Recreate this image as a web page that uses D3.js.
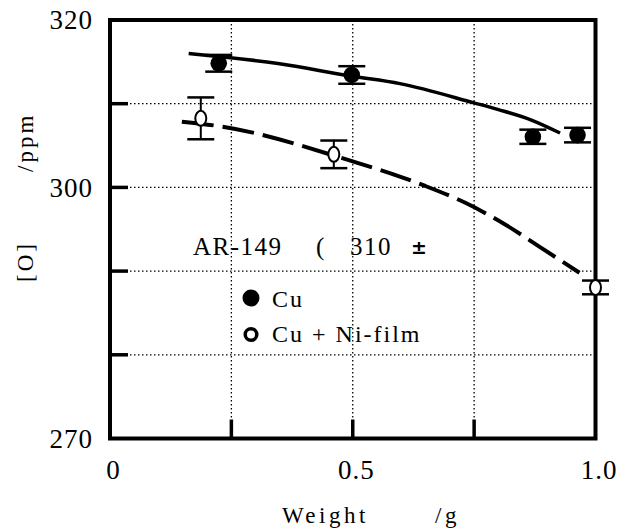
<!DOCTYPE html>
<html><head><meta charset="utf-8">
<script src="https://cdn.jsdelivr.net/npm/d3@7"></script>
<style>body{margin:0;background:#fff}</style>
</head><body><svg id="c" width="620" height="530"></svg>
<script>
// Data
const cuX = [0.224, 0.498, 0.871, 0.963];
const cuY = [314.83, 313.43, 306.05, 306.25];
const cuErr = [1.0, 1.05, 0.85, 0.87];
const niX = [0.187, 0.461, 1.0];
const niY = [308.25, 303.95, 288.05];
const niErr = [2.5, 1.65, 0.82];
const fitCuX = [0.162, 0.346, 0.497, 0.597, 0.75, 0.8, 0.868, 0.927];
const fitCuY = [316.0, 314.8, 313.3, 312.4, 310.1, 309.3, 308.05, 306.5];
const fitNiX = [0.148, 0.232, 0.5, 0.597, 0.648, 0.734, 0.813, 0.885, 0.967];
const fitNiY = [307.85, 307.25, 303.1, 301.3, 300.2, 298.1, 295.6, 292.9, 289.8];
const xTicks = [0, 0.25, 0.5, 0.75, 1.0];
const xTickLabels = ["0", "", "0.5", "", "1.0"];
const yTicks = [270, 280, 290, 300, 310, 320];
const yTickLabels = ["270", "", "", "300", "", "320"];

const SERIF = "'Liberation Serif', 'Times New Roman', 'DejaVu Serif', serif";
const svg = d3.select("#c");
const x = d3.scaleLinear().domain([0, 1]).range([110, 595.5]);
const y = d3.scaleLinear().domain([270, 320]).range([438.5, 20]);

function txt(sel, size, ls) {
  return sel.style("font-family", SERIF).style("font-size", size + "px").style("letter-spacing", (ls || 0) + "px").attr("fill", "#000");
}

// grid
const grid = svg.append("g");
grid.selectAll("line.gx").data(xTicks.slice(1, 4)).enter().append("line")
  .attr("x1", d => x(d)).attr("x2", d => x(d)).attr("y1", y(320)).attr("y2", y(270))
  .attr("stroke", "#000").attr("stroke-width", 1.3).attr("stroke-dasharray", "1.5,2.5");
grid.selectAll("line.gy").data(yTicks.slice(1, 5)).enter().append("line")
  .attr("y1", d => y(d)).attr("y2", d => y(d)).attr("x1", x(0)).attr("x2", x(1))
  .attr("stroke", "#000").attr("stroke-width", 1.3).attr("stroke-dasharray", "1.5,2.5");

// axes via d3
const xAxis = d3.axisBottom(x).tickValues(xTicks).tickFormat((d, i) => xTickLabels[i]).tickSize(0).tickPadding(21);
const gx = svg.append("g").attr("transform", `translate(0,${y(270)})`).call(xAxis);
gx.select(".domain").remove();
txt(gx.selectAll("text"), 27, 1).attr("dx", 3);

const yAxis = d3.axisLeft(y).tickValues(yTicks).tickFormat((d, i) => yTickLabels[i]).tickSize(0).tickPadding(17);
const gy = svg.append("g").attr("transform", `translate(${x(0)},0)`).call(yAxis);
gy.select(".domain").remove();
txt(gy.selectAll("text"), 27, 1);

// tick marks (inward, thick)
svg.selectAll("line.ty").data(yTicks.slice(1, 5)).enter().append("line")
  .attr("x1", x(0)).attr("x2", x(0) + 18).attr("y1", d => y(d)).attr("y2", d => y(d))
  .attr("stroke", "#000").attr("stroke-width", 3.5);
svg.selectAll("line.tx").data(xTicks.slice(1, 4)).enter().append("line")
  .attr("x1", d => x(d)).attr("x2", d => x(d)).attr("y1", y(270)).attr("y2", y(270) - 19)
  .attr("stroke", "#000").attr("stroke-width", 3.5);

// frame
svg.append("rect").attr("x", x(0)).attr("y", y(320)).attr("width", x(1) - x(0)).attr("height", y(270) - y(320))
  .attr("fill", "none").attr("stroke", "#000").attr("stroke-width", 4);

// fit curves
const line = d3.line().x(d => x(d[0])).y(d => y(d[1])).curve(d3.curveMonotoneX);
svg.append("path").attr("d", line(fitCuX.map((v, i) => [v, fitCuY[i]])))
  .attr("fill", "none").attr("stroke", "#000").attr("stroke-width", 3.5);
svg.append("path").attr("d", line(fitNiX.map((v, i) => [v, fitNiY[i]])))
  .attr("fill", "none").attr("stroke", "#000").attr("stroke-width", 4).attr("stroke-dasharray", "32,9");

// error bars
function errBars(xs, ys, es) {
  const g = svg.append("g").attr("stroke", "#000");
  xs.forEach((xv, i) => {
    const cx = x(xv), t = y(ys[i] + es[i]), b = y(ys[i] - es[i]);
    g.append("line").attr("x1", cx).attr("x2", cx).attr("y1", t).attr("y2", b).attr("stroke-width", 2);
    g.append("line").attr("x1", cx - 13.5).attr("x2", cx + 13.5).attr("y1", t).attr("y2", t).attr("stroke-width", 2.5);
    g.append("line").attr("x1", cx - 13.5).attr("x2", cx + 13.5).attr("y1", b).attr("y2", b).attr("stroke-width", 2.5);
  });
}
errBars(cuX, cuY, cuErr);
errBars(niX, niY, niErr);

svg.selectAll("circle.cu").data(cuX).enter().append("circle")
  .attr("cx", d => x(d)).attr("cy", (d, i) => y(cuY[i])).attr("r", 8.3).attr("fill", "#000");
svg.selectAll("ellipse.ni").data(niX).enter().append("ellipse")
  .attr("cx", d => x(d)).attr("cy", (d, i) => y(niY[i])).attr("rx", 5.5).attr("ry", 7.5)
  .attr("fill", "#fff").attr("stroke", "#000").attr("stroke-width", 2);

// annotation
txt(svg.append("text").attr("x", 193).attr("y", 255), 25, 1.5).text("AR-149");
txt(svg.append("text").attr("x", 316).attr("y", 255), 25, 0).text("(");
txt(svg.append("text").attr("x", 350).attr("y", 255), 25, 1.5).text("310");
svg.append("text").attr("x", 411).attr("y", 254).style("font-family", "'DejaVu Sans', sans-serif")
  .style("font-size", "19px").style("font-weight", "bold").text("±");

// legend
svg.append("circle").attr("cx", 251).attr("cy", 298).attr("r", 8.5).attr("fill", "#000");
txt(svg.append("text").attr("x", 272).attr("y", 307), 24, 2).text("Cu");
svg.append("circle").attr("cx", 251).attr("cy", 334.5).attr("r", 5.8).attr("fill", "#fff").attr("stroke", "#000").attr("stroke-width", 3.5);
txt(svg.append("text").attr("x", 272).attr("y", 342), 24, 2).text("Cu + Ni-film");

// axis titles
txt(svg.append("text").attr("x", 282).attr("y", 523), 23, 3.5).text("Weight");
txt(svg.append("text").attr("x", 435).attr("y", 523), 23, 3.5).text("/g");
txt(svg.append("text").attr("transform", "translate(33,282) rotate(-90)"), 23, 3).text("[O]");
txt(svg.append("text").attr("transform", "translate(33,172) rotate(-90)"), 23, 3).text("/ppm");
</script></body></html>
